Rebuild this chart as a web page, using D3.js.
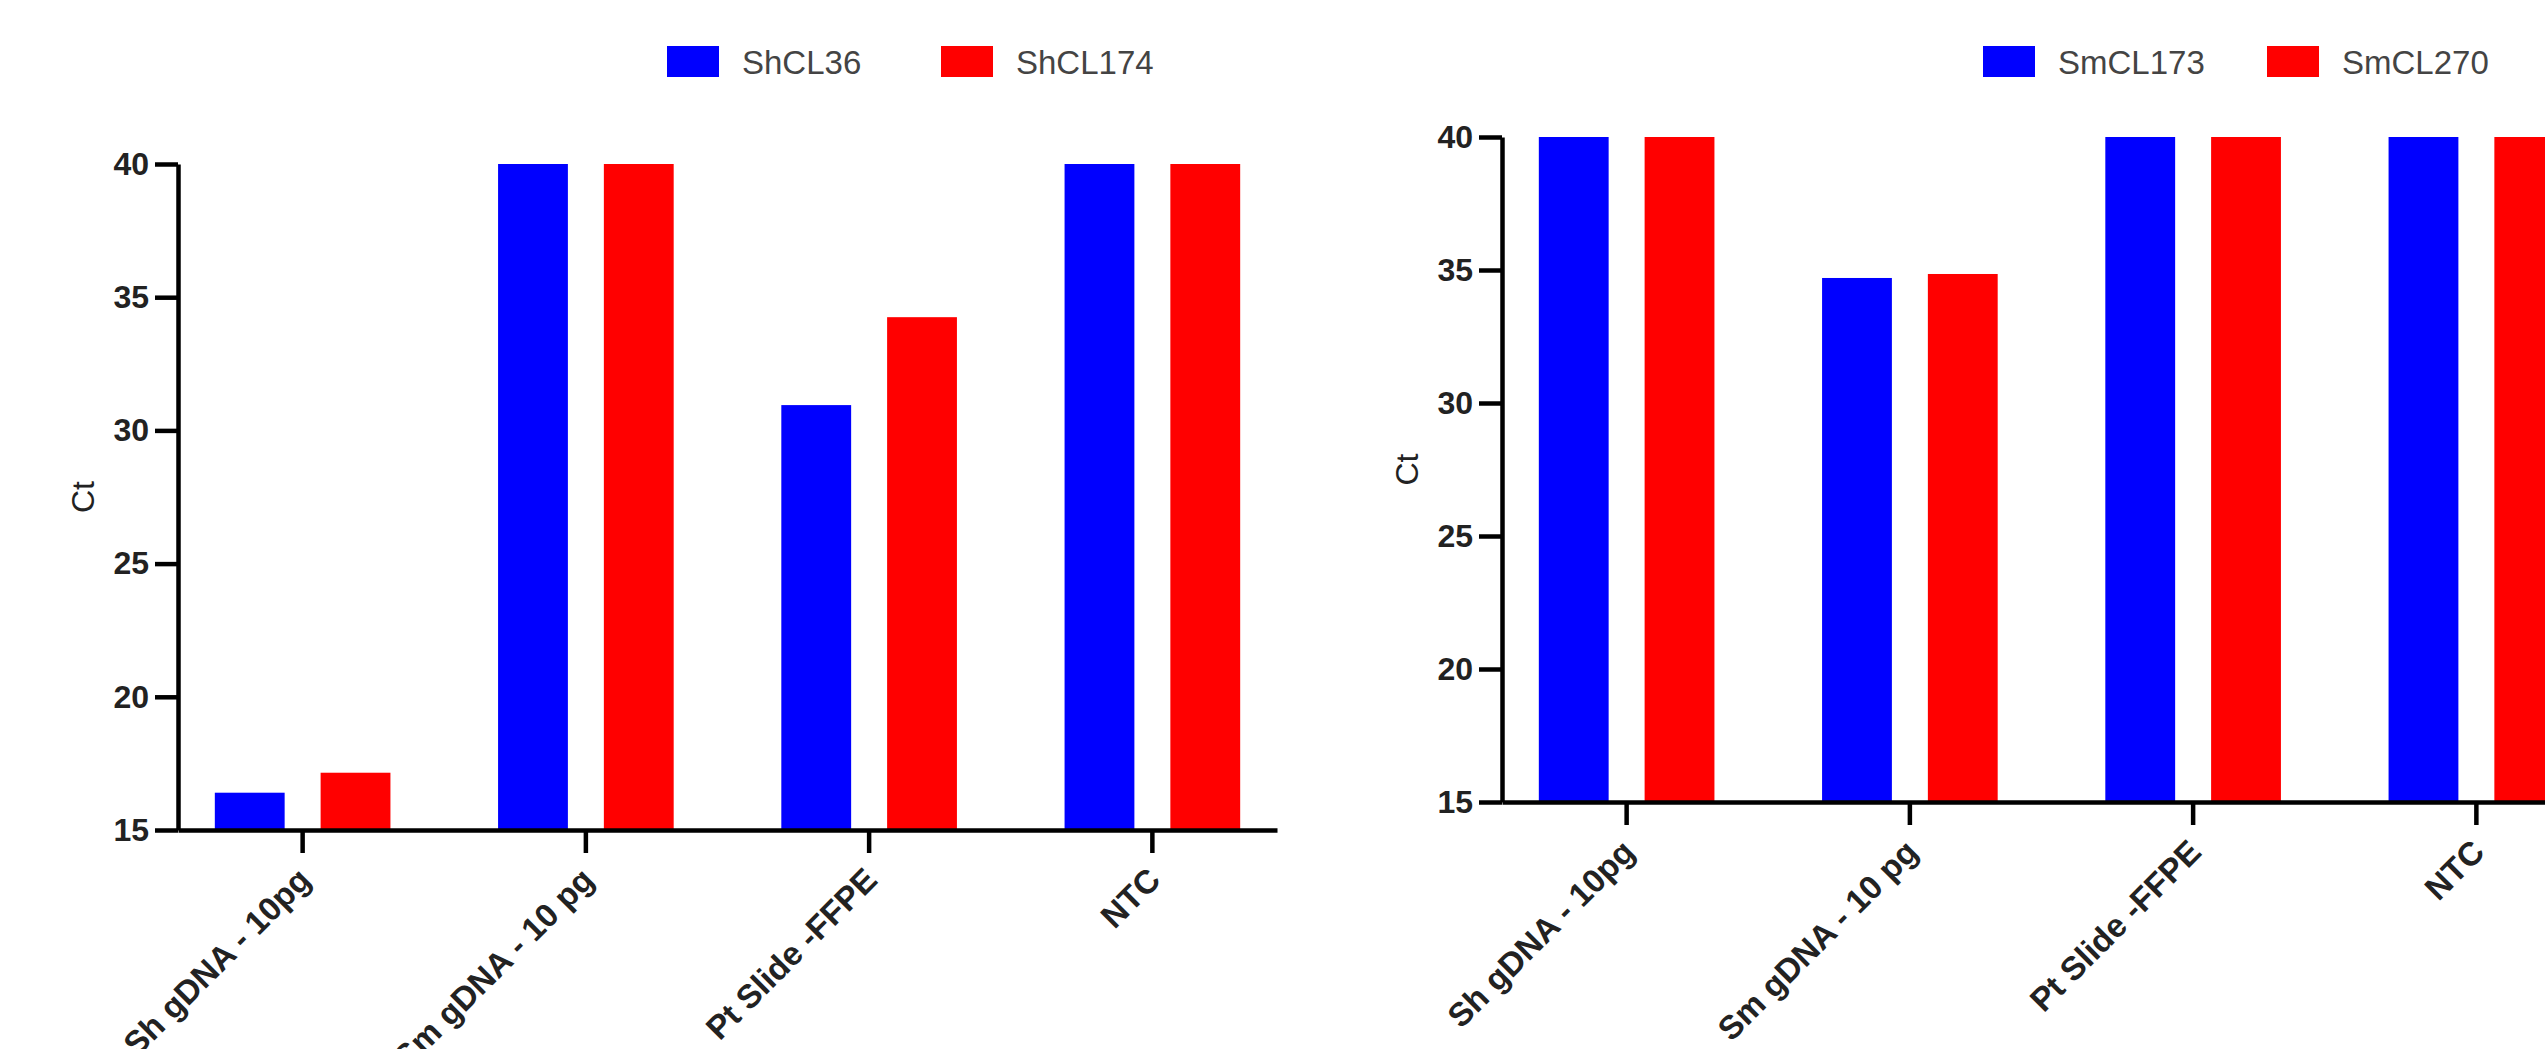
<!DOCTYPE html>
<html>
<head>
<meta charset="utf-8">
<script src="https://cdn.jsdelivr.net/npm/d3@7"></script>
<style>
  body { margin: 0; background: #fff; overflow: hidden; }
  svg { display: block; font-family: "Liberation Sans", Arial, sans-serif; }
</style>
</head>
<body>
<div id="chart"></div>
<script>
var width = 2545;
var height = 1049;

// data
var categories = ["Sh gDNA - 10pg", "Sm gDNA - 10 pg", "Pt Slide -FFPE", "NTC"];
var yTicks = [15, 20, 25, 30, 35, 40];

var shSeries = ["ShCL36", "ShCL174"];
var shCL36 = [16.4, 40, 30.95, 40];
var shCL174 = [17.15, 40, 34.25, 40];

var smSeries = ["SmCL173", "SmCL270"];
var smCL173 = [40, 34.7, 40, 40];
var smCL270 = [40, 34.85, 40, 40];

var colors = ["#0000ff", "#ff0000"];

var svg = d3.select("#chart").append("svg")
    .attr("width", width)
    .attr("height", height);

function drawPanel(opt){
    var g = svg.append("g");

    var x0 = d3.scaleBand()
        .domain(categories)
        .range([opt.left, opt.right])
        .paddingInner(0.38)
        .paddingOuter(0.13);

    var x1 = d3.scaleBand()
        .domain(opt.series)
        .range([0, x0.bandwidth()])
        .paddingInner(0.34);

    var y = d3.scaleLinear()
        .domain([15, 40])
        .range([opt.bottom, opt.top]);

    var rows = categories.map(function(c, i){
        return opt.series.map(function(s, j){
            return {cat: c, key: s, value: opt.values[j][i], color: colors[j]};
        });
    });

    g.selectAll("g.grp")
        .data(rows)
    .enter()
        .append("g")
            .attr("class", "grp")
            .attr("transform", function(d, i){ return "translate(" + x0(categories[i]) + ",0)"; })
        .selectAll("rect")
            .data(function(d){ return d; })
        .enter()
            .append("rect")
                .attr("x", function(d){ return x1(d.key); })
                .attr("y", function(d){ return y(d.value); })
                .attr("width", x1.bandwidth())
                .attr("height", function(d){ return y(15) - y(d.value); })
                .attr("fill", function(d){ return d.color; });

    // y axis
    var yAxis = g.append("g")
        .attr("transform", "translate(" + opt.left + ",0)")
        .call(d3.axisLeft(y).tickValues(yTicks).tickSize(23).tickSizeOuter(0).tickPadding(6));
    yAxis.selectAll("text")
        .style("font-size", "32px")
        .style("font-weight", "bold")
        .attr("fill", "#222");

    // x axis
    var xAxis = g.append("g")
        .attr("transform", "translate(0," + opt.bottom + ")")
        .call(d3.axisBottom(x0).tickSize(23).tickSizeOuter(0));
    xAxis.selectAll("text")
        .style("font-size", "33px")
        .style("font-weight", "bold")
        .attr("fill", "#222")
        .attr("text-anchor", "end")
        .attr("x", 0)
        .attr("y", 0)
        .attr("dy", 0)
        .attr("transform", "translate(10,52) rotate(-45)");

    svg.selectAll(".domain, .tick line")
        .attr("stroke", "#000")
        .attr("stroke-width", 4.5);

    g.append("text")
        .attr("transform", "translate(" + (opt.left - 84) + "," + ((opt.top + opt.bottom) / 2) + ") rotate(-90)")
        .attr("text-anchor", "middle")
        .style("font-size", "32px")
        .attr("fill", "#222")
        .text("Ct");

    // legend
    var leg = g.selectAll("g.leg")
        .data(opt.series)
    .enter()
        .append("g")
            .attr("class", "leg")
            .attr("transform", function(d, i){ return "translate(" + opt.legendX[i] + ",46)"; });
    leg.append("rect")
        .attr("width", 52)
        .attr("height", 31)
        .attr("fill", function(d, i){ return colors[i]; });
    leg.append("text")
        .attr("x", 75)
        .attr("y", 28)
        .style("font-size", "33px")
        .attr("fill", "#444")
        .text(function(d){ return d; });
}

drawPanel({
    left: 178, right: 1277, top: 164, bottom: 830,
    series: shSeries, values: [shCL36, shCL174],
    legendX: [667, 941]
});

drawPanel({
    left: 1502, right: 2601, top: 137, bottom: 802,
    series: smSeries, values: [smCL173, smCL270],
    legendX: [1983, 2267]
});
</script>
</body>
</html>
